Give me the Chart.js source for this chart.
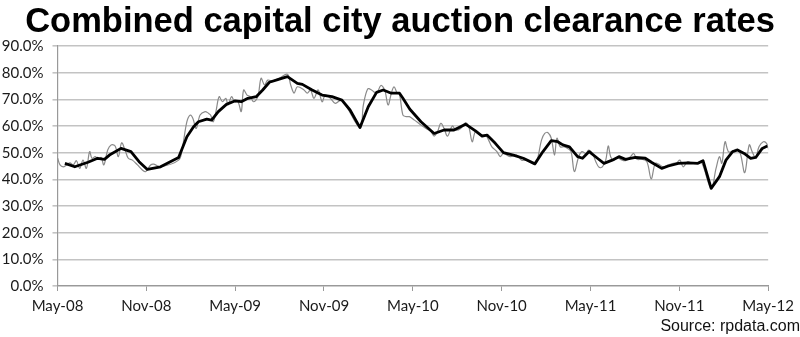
<!DOCTYPE html>
<html>
<head>
<meta charset="utf-8">
<title>Combined capital city auction clearance rates</title>
<script src="https://cdn.jsdelivr.net/npm/chart.js@4.4.1/dist/chart.umd.min.js"></script>
<style>
  html, body { margin: 0; padding: 0; background: #fff; }
  #wrap { width: 800px; height: 337px; }
</style>
</head>
<body>
<div id="wrap"><canvas id="clearance"></canvas></div>
<script>
// months counted from May-08, one tick every 6 months
const tickLabels = ['May-08', 'Nov-08', 'May-09', 'Nov-09', 'May-10', 'Nov-10', 'May-11', 'Nov-11', 'May-12'];

// weekly clearance rate (%)
const weeklyMonths = [
  0.01, 0.17, 0.39, 0.61, 0.84, 1.06, 1.28, 1.50, 1.72, 1.95, 2.17, 2.33, 2.55, 2.77, 2.95, 3.13,
  3.39, 3.62, 3.89, 4.11, 4.33, 4.56, 4.78, 5.06, 5.40, 5.73, 5.96, 6.29, 6.51, 6.96,
  8.18, 8.41, 8.74, 8.97, 9.14, 9.37, 9.63, 9.97, 10.19, 10.34, 10.52, 10.70, 10.92, 11.14,
  11.37, 11.52, 11.75, 11.97, 12.19, 12.41, 12.57, 12.80, 13.02, 13.24, 13.53, 13.75, 13.98,
  14.20, 14.53, 14.98, 15.53, 15.75, 15.98, 16.20, 16.65, 16.87, 17.09, 17.32, 17.61, 17.87,
  18.09, 18.43, 18.76, 19.21, 20.43, 20.66, 20.95, 21.21, 21.55, 21.84, 22.10, 22.33, 22.55,
  22.73, 22.95, 23.10, 23.33, 23.55, 23.77, 24.11, 24.55, 24.89, 25.22, 25.44, 25.67, 25.89,
  26.11, 26.34, 26.67, 26.89, 27.23, 27.56, 27.78, 28.01, 28.23, 28.56, 28.90, 29.12, 29.34,
  29.68, 29.90, 30.12, 30.57, 31.01, 31.35, 31.68, 32.12, 32.35, 32.69, 32.91, 33.13, 33.35,
  33.57, 33.73, 33.96, 34.24, 34.46, 34.69, 34.91, 35.20, 35.42, 35.69, 35.87, 36.13, 36.36,
  36.58, 36.80, 37.03, 37.20, 37.36, 37.58, 37.80, 38.03, 38.36, 38.70, 38.92, 39.14, 39.47,
  39.81, 40.10, 40.37, 40.59, 40.92, 41.26, 41.59, 41.81, 42.04, 42.26, 42.55, 42.81, 43.15,
  43.48, 44.15, 44.48, 44.71, 44.87, 45.09, 45.31, 45.60, 45.89, 46.12, 46.42, 46.72, 46.94,
  47.16, 47.38, 47.67, 47.89, 48.05
];
const weeklyRates = [
  47.9, 45.4, 44.7, 45.4, 46.2, 45.4, 47.0, 44.1, 47.2, 44.1, 50.4, 47.9, 48.5, 47.5, 48.2, 45.4,
  51.0, 52.9, 52.5, 48.5, 53.7, 51.0, 47.9, 47.2, 45.4, 43.5, 42.9, 45.4, 45.7, 44.7,
  47.2, 51.0, 61.6, 64.1, 62.9, 59.1, 64.1, 65.4, 64.8, 64.1, 61.6, 65.4, 71.0, 69.1,
  70.4, 67.9, 71.0, 69.1, 69.1, 65.4, 73.5, 71.6, 71.0, 69.1, 71.0, 77.9, 75.4,
  77.2, 76.9, 77.9, 79.4, 75.4, 72.3, 74.7, 73.5, 72.3, 73.5, 70.4, 73.5, 69.1,
  71.6, 70.4, 68.5, 69.7, 59.4, 67.9, 73.9, 73.5, 72.3, 75.2, 73.5, 67.9, 72.3,
  74.7, 72.3, 71.9, 64.1, 63.5, 63.5, 62.2, 60.4, 59.1, 57.9, 56.2, 57.9, 61.0,
  59.1, 56.2, 60.0, 58.5, 59.1, 61.2, 59.7, 54.1, 57.9, 56.6, 56.6, 54.7, 52.2,
  50.4, 48.5, 49.7, 48.5, 49.1, 47.2, 47.2, 46.0, 46.2, 54.7, 57.2, 57.5, 55.4,
  49.1, 55.4, 52.2, 52.2, 51.6, 50.4, 42.9, 48.5, 50.4, 49.7, 51.0, 49.7, 46.6,
  44.5, 44.7, 47.2, 52.5, 48.5, 47.2, 48.2, 47.5, 47.0, 48.5, 49.7, 47.5, 47.5,
  46.6, 40.2, 46.0, 45.7, 44.7, 45.4, 46.0, 46.2, 47.2, 44.7, 46.6, 46.2, 46.0,
  46.6, 36.6, 44.1, 48.5, 46.0, 54.1, 50.4, 50.4, 51.3, 49.7, 42.5, 52.9, 50.1,
  48.2, 52.2, 54.1, 53.5, 51.0
];

// four-week average (%)
const averageMonths = [
  0.50, 1.17, 2.06, 2.71, 3.17, 3.51, 4.29, 4.96, 5.51, 6.07, 6.96, 8.18, 8.74, 9.19, 9.52,
  10.08, 10.41, 10.86, 11.41, 11.97, 12.41, 12.86, 13.42, 13.86, 14.31, 14.98, 15.53, 16.20,
  16.54, 17.20, 17.87, 18.54, 19.21, 19.76, 20.43, 20.99, 21.55, 22.00, 22.55, 23.10, 23.33,
  23.80, 24.55, 25.44, 26.11, 26.78, 27.56, 28.23, 28.68, 29.01, 29.57, 30.12, 30.79, 31.46,
  32.24, 32.79, 33.35, 33.79, 34.13, 34.58, 35.13, 35.46, 35.91, 36.47, 36.91, 37.47, 37.92,
  38.36, 39.03, 39.70, 40.14, 40.81, 41.26, 41.93, 42.60, 43.26, 43.60, 44.15, 44.71, 45.15,
  45.60, 45.93, 46.38, 46.82, 47.16, 47.60, 47.94
];
const averageRates = [
  46.0, 44.7, 46.4, 47.9, 47.5, 49.1, 51.6, 50.4, 46.6, 43.7, 44.7, 48.2, 56.0, 59.7, 61.6,
  62.6, 62.2, 65.4, 68.1, 69.4, 69.1, 70.4, 71.0, 73.5, 76.4, 77.6, 78.5, 76.0,
  75.6, 73.5, 71.6, 71.0, 69.7, 66.0, 59.4, 67.2, 72.6, 73.5, 72.3, 72.3, 70.4,
  66.3, 61.6, 57.2, 58.5, 58.5, 60.7, 58.2, 56.2, 56.6, 53.5, 50.0, 49.1, 47.9,
  45.8, 50.4, 54.5, 54.1, 52.9, 52.2, 48.5, 47.9, 50.4, 47.9, 46.0, 47.2, 48.5,
  47.5, 48.2, 47.9, 46.3, 44.1, 45.0, 46.0, 46.2, 46.0, 47.0, 36.6, 41.0, 47.2,
  50.4, 51.0, 49.7, 47.9, 48.2, 51.6, 52.5
];

function toPoints(xs, ys) {
  return xs.map((x, i) => ({ x: x, y: ys[i] }));
}

const gridGrey = '#c3c3c3';
const labelFont = { family: 'Lato', size: 15 };

let ctx = document.getElementById('clearance');
let chart = new Chart(ctx, {
  type: 'line',
  data: {
    datasets: [{
      label: 'Four-week average',
      data: toPoints(averageMonths, averageRates),
      borderColor: '#000',
      borderWidth: 2.8,
      pointRadius: 0,
      tension: 0,
      borderJoinStyle: 'round'
    }, {
      label: 'Weekly',
      data: toPoints(weeklyMonths, weeklyRates),
      borderColor: '#8a8a8a',
      borderWidth: 1.2,
      pointRadius: 0,
      tension: 0.35
    }]
  },
  options: {
    responsive: true,
    maintainAspectRatio: false,
    animation: false,
    layout: { padding: 0 },
    plugins: {
      legend: { display: false },
      tooltip: { enabled: false },
      title: {
        display: true,
        text: 'Combined capital city auction clearance rates',
        color: '#000',
        font: { family: 'Liberation Sans', size: 34.5, weight: 'bold' },
        padding: { top: 2, bottom: 2.6 }
      },
      subtitle: {
        display: true,
        position: 'bottom',
        align: 'end',
        text: 'Source: rpdata.com',
        color: '#111',
        font: { family: 'Liberation Sans', size: 16 },
        padding: { top: 2, bottom: 1 }
      }
    },
    scales: {
      x: {
        type: 'linear',
        min: 0,
        max: 48,
        afterFit: (scale) => { scale.height = 28.8; },
        ticks: {
          stepSize: 6,
          padding: 6,
          maxRotation: 0,
          color: '#1a1a1a',
          font: labelFont,
          callback: (v) => tickLabels[v / 6]
        },
        grid: { drawOnChartArea: false, color: '#999', tickLength: 5 },
        border: { color: '#999', width: 1.2 }
      },
      y: {
        min: 0,
        max: 90,
        afterFit: (scale) => { scale.width = 57.5; },
        ticks: {
          stepSize: 10,
          padding: 9,
          color: '#1a1a1a',
          font: labelFont,
          callback: (v) => v.toFixed(1) + '%'
        },
        grid: { color: gridGrey, lineWidth: 1.6, tickLength: 5 },
        border: { color: '#999', width: 1.2 }
      }
    }
  }
});
</script>
</body>
</html>
